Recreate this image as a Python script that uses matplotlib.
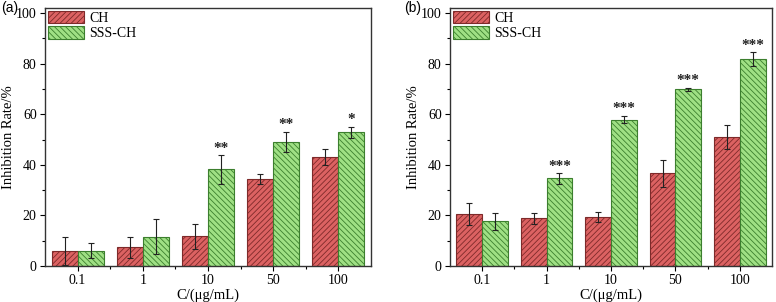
import matplotlib
matplotlib.use("Agg")
import matplotlib.pyplot as plt
import numpy as np
from matplotlib.ticker import MultipleLocator

# ==============================================
# DATA
# ==============================================
conc_labels = ["0.1", "1", "10", "50", "100"]
series_names = ["CH", "SSS-CH"]

ch_a = [5.9, 7.4, 11.7, 34.3, 43.2]
ch_a_err = [5.6, 4.1, 4.8, 2.0, 3.1]
sss_a = [6.0, 11.6, 38.2, 49.0, 52.8]
sss_a_err = [3.0, 7.0, 5.6, 4.1, 2.2]
stars_a = ["", "", "**", "**", "*"]

ch_b = [20.6, 18.8, 19.4, 36.7, 51.0]
ch_b_err = [4.4, 2.0, 1.9, 5.3, 4.9]
sss_b = [17.6, 34.6, 57.9, 69.8, 81.9]
sss_b_err = [3.3, 2.0, 1.4, 0.7, 2.7]
stars_b = ["", "***", "***", "***", "***"]

# ==============================================
# STYLE
# ==============================================
plt.rcParams["font.family"] = ["Liberation Serif", "DejaVu Serif"]
plt.rcParams["hatch.linewidth"] = 0.6
RED_FACE = "#dc6262"
RED_EDGE = "#7e2a2a"
GREEN_FACE = "#9fe084"
GREEN_EDGE = "#3c7f2e"
WIDTH = 0.4


def draw_panel(ax, ch, ch_err, sss, sss_err, stars):
    x = np.arange(len(conc_labels))
    ax.bar(x - WIDTH / 2, ch, width=WIDTH, color=RED_FACE, edgecolor=RED_EDGE,
           hatch="//////", linewidth=0.8, label=series_names[0])
    ax.bar(x + WIDTH / 2, sss, width=WIDTH, color=GREEN_FACE, edgecolor=GREEN_EDGE,
           hatch="\\\\\\\\\\\\", linewidth=0.8, label=series_names[1])
    ax.errorbar(x - WIDTH / 2, ch, yerr=ch_err, fmt="none", ecolor="#222222",
                elinewidth=0.8, capsize=2.5, capthick=0.8)
    ax.errorbar(x + WIDTH / 2, sss, yerr=sss_err, fmt="none", ecolor="#222222",
                elinewidth=0.8, capsize=2.5, capthick=0.8)
    for xi, v, e, s in zip(x, sss, sss_err, stars):
        if s:
            ax.text(xi + WIDTH / 2, v + e + 0.2, s, ha="center", va="bottom",
                    fontsize=11, fontweight="bold", color="#222222")

    ax.set_xlim(-0.5, 4.5)
    ax.set_ylim(0, 102)
    ax.set_xticks(x)
    ax.set_xticklabels(conc_labels)
    ax.set_xticks(x[:-1] + 0.5, minor=True)
    ax.yaxis.set_major_locator(MultipleLocator(20))
    ax.yaxis.set_minor_locator(MultipleLocator(10))
    ax.tick_params(which="major", length=3.5, width=0.8, labelsize=10,
                   direction="out", pad=2.5)
    ax.tick_params(which="minor", length=2, width=0.8, direction="out")
    for sp in ax.spines.values():
        sp.set_linewidth(1.0)
        sp.set_color("#333333")
    ax.set_xlabel("C/(\u03bcg/mL)", fontsize=10.5, labelpad=1)
    ax.set_ylabel("Inhibition Rate/%", fontsize=10.5, labelpad=1)
    ax.legend(loc="upper left", frameon=False, fontsize=10, handlelength=2.6,
              handleheight=1.0, borderaxespad=0.1, labelspacing=0.1,
              handletextpad=0.4, borderpad=0.1)


fig = plt.figure(figsize=(7.76, 3.02), dpi=100)
ax_a = fig.add_axes([45 / 776, 1 - 266 / 302, 326 / 776, 258 / 302])
ax_b = fig.add_axes([450 / 776, 1 - 266 / 302, 322 / 776, 258 / 302])

draw_panel(ax_a, ch_a, ch_a_err, sss_a, sss_a_err, stars_a)
draw_panel(ax_b, ch_b, ch_b_err, sss_b, sss_b_err, stars_b)

fig.text(1 / 776, 1 - 8 / 302, "(a)", fontsize=10,
         family=["Liberation Sans", "DejaVu Sans"], ha="left", va="center")
fig.text(404 / 776, 1 - 8 / 302, "(b)", fontsize=10,
         family=["Liberation Sans", "DejaVu Sans"], ha="left", va="center")

fig.savefig("out.png", dpi=100)
plt.close(fig)
